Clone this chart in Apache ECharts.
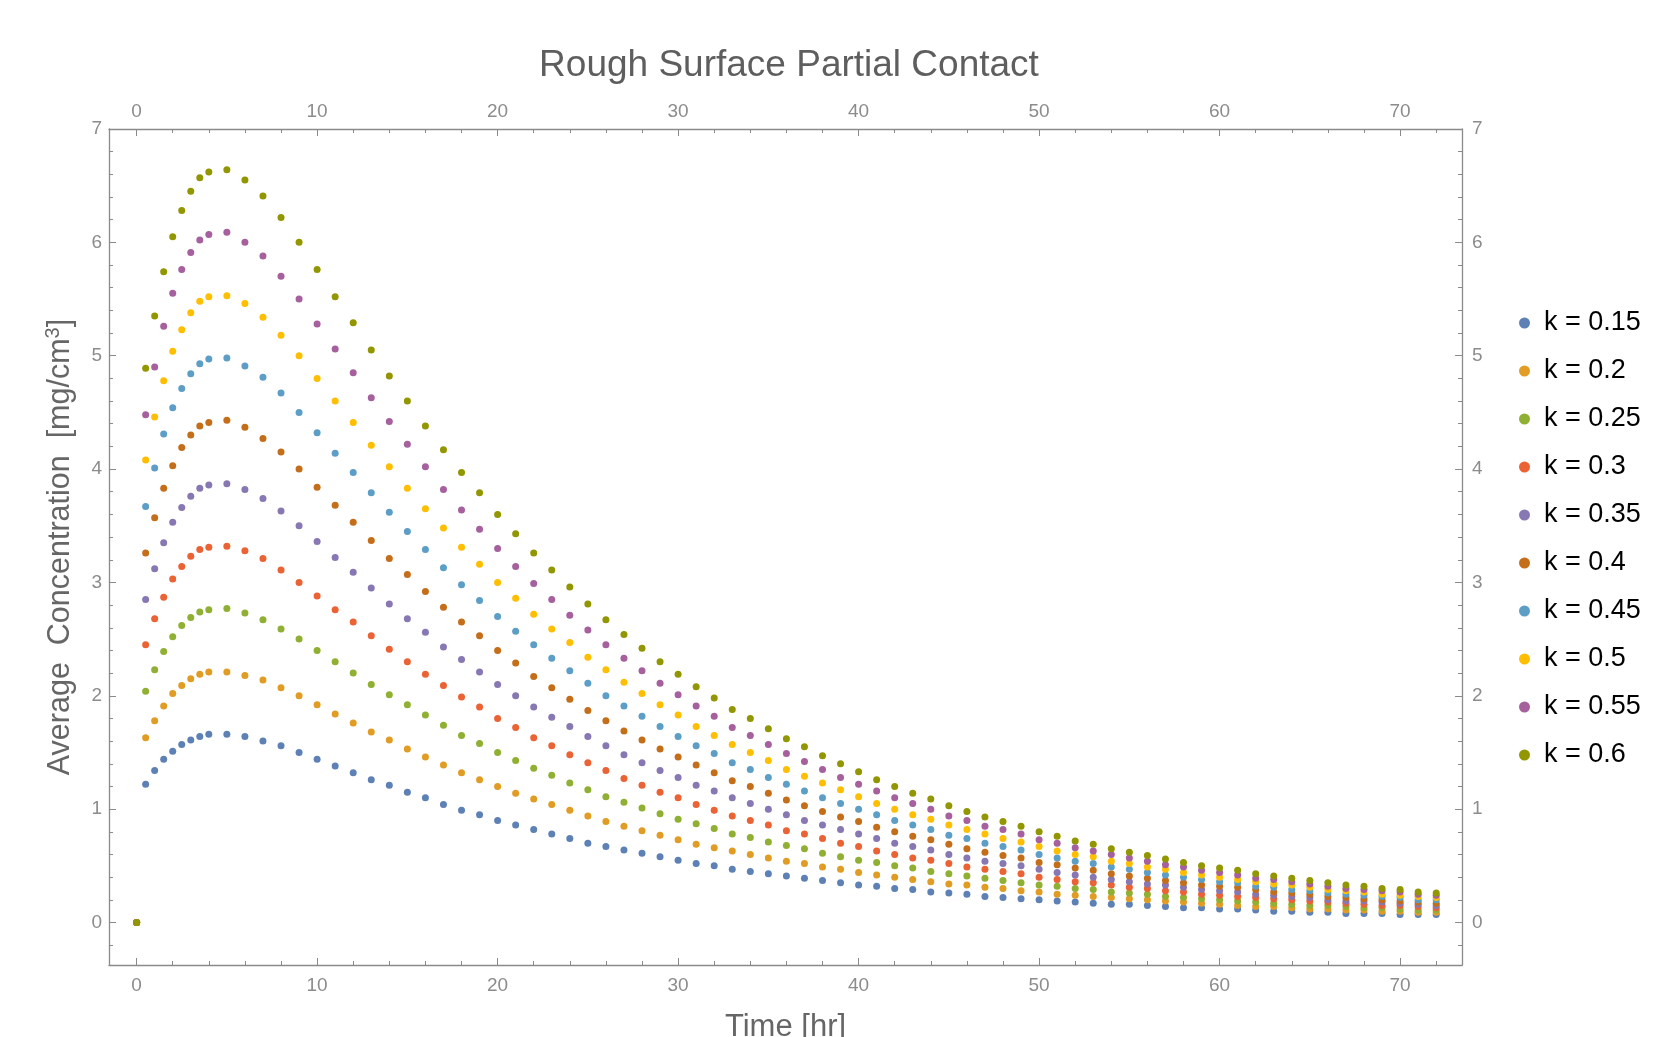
<!DOCTYPE html>
<html>
<head>
<meta charset="utf-8">
<title>Rough Surface Partial Contact</title>
<script src="https://cdn.jsdelivr.net/npm/echarts@6/dist/echarts.min.js"></script>
<style>
    html, body {margin: 0; padding: 0; background: #fff;}
    #main {width: 1679px; height: 1037px;}
</style>
</head>
<body>
<div id="main"></div>
<script>
// time points [hr]
var times = [0, 0.5, 1, 1.5, 2, 2.5, 3, 3.5, 4, 5,
    6, 7, 8, 9, 10, 11, 12, 13, 14, 15,
    16, 17, 18, 19, 20, 21, 22, 23, 24, 25,
    26, 27, 28, 29, 30, 31, 32, 33, 34, 35,
    36, 37, 38, 39, 40, 41, 42, 43, 44, 45,
    46, 47, 48, 49, 50, 51, 52, 53, 54, 55,
    56, 57, 58, 59, 60, 61, 62, 63, 64, 65,
    66, 67, 68, 69, 70, 71, 72];

var k015 = [0, 1.22, 1.34, 1.44, 1.51, 1.57, 1.61, 1.64, 1.66, 1.66,
    1.64, 1.60, 1.56, 1.50, 1.44, 1.38, 1.32, 1.26, 1.21, 1.15,
    1.10, 1.04, 0.99, 0.95, 0.90, 0.86, 0.82, 0.78, 0.74, 0.70,
    0.67, 0.64, 0.61, 0.58, 0.55, 0.52, 0.50, 0.47, 0.45, 0.43,
    0.41, 0.39, 0.37, 0.35, 0.33, 0.32, 0.30, 0.29, 0.27, 0.26,
    0.25, 0.23, 0.22, 0.21, 0.20, 0.19, 0.18, 0.17, 0.16, 0.16,
    0.15, 0.14, 0.13, 0.13, 0.12, 0.12, 0.11, 0.10, 0.10, 0.09,
    0.09, 0.08, 0.08, 0.08, 0.07, 0.07, 0.07];

var k020 = [0, 1.63, 1.78, 1.91, 2.02, 2.09, 2.15, 2.19, 2.21, 2.21,
    2.18, 2.14, 2.07, 2.00, 1.92, 1.84, 1.76, 1.68, 1.61, 1.53,
    1.46, 1.39, 1.32, 1.26, 1.20, 1.14, 1.09, 1.04, 0.99, 0.94,
    0.89, 0.85, 0.81, 0.77, 0.73, 0.69, 0.66, 0.63, 0.60, 0.57,
    0.54, 0.52, 0.49, 0.47, 0.44, 0.42, 0.40, 0.38, 0.36, 0.34,
    0.33, 0.31, 0.30, 0.28, 0.27, 0.25, 0.24, 0.23, 0.22, 0.21,
    0.20, 0.19, 0.18, 0.17, 0.16, 0.15, 0.14, 0.14, 0.13, 0.12,
    0.12, 0.11, 0.11, 0.10, 0.10, 0.09, 0.09];

var k025 = [0, 2.04, 2.23, 2.39, 2.52, 2.62, 2.69, 2.74, 2.76, 2.77,
    2.73, 2.67, 2.59, 2.50, 2.40, 2.30, 2.20, 2.10, 2.01, 1.92,
    1.83, 1.74, 1.65, 1.58, 1.50, 1.43, 1.36, 1.30, 1.23, 1.17,
    1.11, 1.06, 1.01, 0.96, 0.91, 0.87, 0.83, 0.78, 0.75, 0.71,
    0.68, 0.65, 0.61, 0.58, 0.55, 0.53, 0.50, 0.48, 0.45, 0.43,
    0.41, 0.39, 0.37, 0.35, 0.33, 0.32, 0.30, 0.29, 0.27, 0.26,
    0.25, 0.23, 0.22, 0.21, 0.20, 0.19, 0.18, 0.17, 0.16, 0.15,
    0.15, 0.14, 0.13, 0.13, 0.12, 0.11, 0.11];

var k030 = [0, 2.45, 2.68, 2.87, 3.03, 3.14, 3.23, 3.29, 3.31, 3.32,
    3.28, 3.21, 3.11, 3.00, 2.88, 2.76, 2.65, 2.53, 2.41, 2.30,
    2.19, 2.09, 1.99, 1.90, 1.80, 1.72, 1.63, 1.56, 1.48, 1.41,
    1.34, 1.27, 1.21, 1.15, 1.10, 1.04, 0.99, 0.94, 0.90, 0.86,
    0.81, 0.78, 0.74, 0.70, 0.67, 0.63, 0.60, 0.57, 0.55, 0.52,
    0.49, 0.47, 0.45, 0.43, 0.40, 0.38, 0.36, 0.35, 0.33, 0.31,
    0.30, 0.28, 0.27, 0.25, 0.24, 0.23, 0.22, 0.21, 0.20, 0.19,
    0.18, 0.17, 0.16, 0.15, 0.15, 0.14, 0.13];

var k035 = [0, 2.85, 3.12, 3.35, 3.53, 3.66, 3.76, 3.83, 3.86, 3.87,
    3.82, 3.74, 3.63, 3.50, 3.36, 3.22, 3.09, 2.95, 2.81, 2.68,
    2.56, 2.43, 2.32, 2.21, 2.10, 2.00, 1.90, 1.81, 1.73, 1.64,
    1.56, 1.48, 1.41, 1.34, 1.28, 1.21, 1.16, 1.10, 1.05, 1.00,
    0.95, 0.90, 0.86, 0.82, 0.78, 0.74, 0.70, 0.67, 0.64, 0.60,
    0.57, 0.54, 0.52, 0.50, 0.47, 0.44, 0.42, 0.40, 0.38, 0.36,
    0.34, 0.33, 0.31, 0.29, 0.28, 0.27, 0.25, 0.24, 0.23, 0.22,
    0.20, 0.19, 0.19, 0.18, 0.17, 0.16, 0.15];

var k040 = [0, 3.26, 3.57, 3.83, 4.03, 4.19, 4.30, 4.38, 4.41, 4.43,
    4.37, 4.27, 4.15, 4.00, 3.84, 3.68, 3.53, 3.37, 3.21, 3.07,
    2.92, 2.78, 2.65, 2.53, 2.40, 2.29, 2.17, 2.07, 1.97, 1.87,
    1.78, 1.69, 1.61, 1.53, 1.46, 1.39, 1.32, 1.25, 1.20, 1.14,
    1.08, 1.03, 0.98, 0.93, 0.89, 0.84, 0.80, 0.76, 0.73, 0.69,
    0.65, 0.62, 0.59, 0.57, 0.53, 0.51, 0.48, 0.46, 0.43, 0.41,
    0.39, 0.37, 0.35, 0.33, 0.32, 0.31, 0.29, 0.27, 0.26, 0.25,
    0.23, 0.22, 0.21, 0.20, 0.19, 0.18, 0.17];

var k045 = [0, 3.67, 4.01, 4.31, 4.54, 4.71, 4.84, 4.93, 4.97, 4.98,
    4.91, 4.81, 4.67, 4.50, 4.32, 4.14, 3.97, 3.79, 3.62, 3.45,
    3.29, 3.13, 2.98, 2.84, 2.70, 2.57, 2.45, 2.33, 2.22, 2.11,
    2.00, 1.91, 1.82, 1.73, 1.64, 1.56, 1.49, 1.41, 1.35, 1.28,
    1.22, 1.16, 1.10, 1.05, 1.00, 0.95, 0.90, 0.86, 0.82, 0.77,
    0.74, 0.70, 0.67, 0.64, 0.60, 0.57, 0.54, 0.52, 0.49, 0.47,
    0.44, 0.42, 0.40, 0.38, 0.36, 0.35, 0.32, 0.31, 0.29, 0.28,
    0.26, 0.25, 0.24, 0.23, 0.22, 0.20, 0.20];

var k050 = [0, 4.08, 4.46, 4.78, 5.04, 5.23, 5.38, 5.48, 5.52, 5.53,
    5.46, 5.34, 5.18, 5.00, 4.80, 4.60, 4.41, 4.21, 4.02, 3.83,
    3.65, 3.48, 3.31, 3.16, 3.00, 2.86, 2.72, 2.59, 2.47, 2.34,
    2.23, 2.12, 2.02, 1.92, 1.83, 1.73, 1.65, 1.57, 1.50, 1.43,
    1.35, 1.29, 1.23, 1.17, 1.11, 1.05, 1.00, 0.95, 0.91, 0.86,
    0.82, 0.78, 0.74, 0.71, 0.67, 0.63, 0.60, 0.58, 0.54, 0.52,
    0.49, 0.47, 0.44, 0.42, 0.40, 0.38, 0.36, 0.34, 0.33, 0.31,
    0.29, 0.28, 0.27, 0.25, 0.24, 0.23, 0.22];

var k055 = [0, 4.48, 4.90, 5.26, 5.55, 5.76, 5.91, 6.02, 6.07, 6.09,
    6.00, 5.88, 5.70, 5.50, 5.28, 5.06, 4.85, 4.63, 4.42, 4.22,
    4.02, 3.82, 3.64, 3.47, 3.30, 3.14, 2.99, 2.85, 2.71, 2.58,
    2.45, 2.33, 2.22, 2.11, 2.01, 1.91, 1.82, 1.72, 1.65, 1.57,
    1.49, 1.42, 1.35, 1.28, 1.22, 1.16, 1.10, 1.05, 1.00, 0.94,
    0.90, 0.85, 0.82, 0.78, 0.73, 0.70, 0.66, 0.63, 0.60, 0.57,
    0.54, 0.51, 0.49, 0.46, 0.44, 0.42, 0.39, 0.38, 0.36, 0.34,
    0.32, 0.30, 0.29, 0.28, 0.27, 0.25, 0.24];

var k060 = [0, 4.89, 5.35, 5.74, 6.05, 6.28, 6.45, 6.57, 6.62, 6.64,
    6.55, 6.41, 6.22, 6.00, 5.76, 5.52, 5.29, 5.05, 4.82, 4.60,
    4.38, 4.17, 3.97, 3.79, 3.60, 3.43, 3.26, 3.11, 2.96, 2.81,
    2.67, 2.54, 2.42, 2.30, 2.19, 2.08, 1.98, 1.88, 1.80, 1.71,
    1.62, 1.55, 1.47, 1.40, 1.33, 1.26, 1.20, 1.14, 1.09, 1.03,
    0.98, 0.93, 0.89, 0.85, 0.80, 0.76, 0.72, 0.69, 0.65, 0.62,
    0.59, 0.56, 0.53, 0.50, 0.48, 0.46, 0.43, 0.41, 0.39, 0.37,
    0.35, 0.33, 0.32, 0.30, 0.29, 0.27, 0.26];

var seriesNames = ['k = 0.15', 'k = 0.2', 'k = 0.25', 'k = 0.3', 'k = 0.35',
    'k = 0.4', 'k = 0.45', 'k = 0.5', 'k = 0.55', 'k = 0.6'];
var seriesValues = [k015, k020, k025, k030, k035, k040, k045, k050, k055, k060];

// tick labels
var xTicks = [0, 10, 20, 30, 40, 50, 60, 70];
var yTicks = [0, 1, 2, 3, 4, 5, 6, 7];

var colors = ['#5e81b5', '#e19c24', '#8fb032', '#eb6235', '#8778b3',
    '#c56e1a', '#5d9ec7', '#ffbf00', '#a5609d', '#929600'];

var font = "'Liberation Sans', Arial, sans-serif";
var frameColor = '#8a8a8a';
var tickLabelColor = '#8c8c8c';

var xMin = -1.53, xMax = 73.43;
var yMin = -0.375, yMax = 7;

// minor ticks (every 2 hr / every 0.2)
var xMinor = [];
for (var a = 2; a <= 72; a += 2) {
    if (a % 10 !== 0) xMinor.push(a);
}
var yMinor = [];
for (var b = -1; b <= 34; b++) {
    if (b % 5 !== 0) yMinor.push(Math.round(b * 20) / 100);
}

function xAxisOf(position, ticks, len, withLabel, withLine, margin) {
    return {
        type: 'value',
        position: position,
        min: xMin,
        max: xMax,
        splitLine: {show: false},
        axisLine: {show: withLine, onZero: false, lineStyle: {color: frameColor, width: 1.3}},
        axisTick: {show: true, inside: true, length: len, customValues: ticks,
            lineStyle: {color: frameColor, width: 1}},
        axisLabel: {show: withLabel, customValues: ticks, margin: margin,
            color: tickLabelColor, fontSize: 19, fontFamily: font}
    };
}

function yAxisOf(position, ticks, len, withLabel, withLine, margin) {
    return {
        type: 'value',
        position: position,
        min: yMin,
        max: yMax,
        splitLine: {show: false},
        axisLine: {show: withLine, onZero: false, lineStyle: {color: frameColor, width: 1.3}},
        axisTick: {show: true, inside: true, length: len, customValues: ticks,
            lineStyle: {color: frameColor, width: 1}},
        axisLabel: {show: withLabel, customValues: ticks, margin: margin,
            color: tickLabelColor, fontSize: 19, fontFamily: font}
    };
}

var xAxes = [
    xAxisOf('bottom', xTicks, 7, true, true, 11),
    xAxisOf('bottom', xMinor, 4, false, false, 11),
    xAxisOf('top', xTicks, 7, true, true, 8),
    xAxisOf('top', xMinor, 4, false, false, 8)
];
xAxes[0].name = 'Time [hr]';
xAxes[0].nameLocation = 'middle';
xAxes[0].nameGap = 47;
xAxes[0].nameTextStyle = {fontSize: 31, color: '#666', fontFamily: font};

var yAxes = [
    yAxisOf('left', yTicks, 7, true, true, 7),
    yAxisOf('left', yMinor, 4, false, false, 7),
    yAxisOf('right', yTicks, 7, true, true, 10),
    yAxisOf('right', yMinor, 4, false, false, 10)
];
yAxes[0].name = 'Average  Concentration  [mg/cm{sup|3}]';
yAxes[0].nameLocation = 'middle';
yAxes[0].nameRotate = 90;
yAxes[0].nameGap = 30;
yAxes[0].nameTextStyle = {
    fontSize: 30.5, color: '#666', fontFamily: font, lineHeight: 36,
    rich: {sup: {fontSize: 20, color: '#666', fontFamily: font, verticalAlign: 'top', lineHeight: 36}}
};

var series = [];
for (var i = 0; i < seriesValues.length; i++) {
    var pts = [];
    for (var j = 0; j < times.length; j++) {
        pts.push([times[j], seriesValues[i][j]]);
    }
    series.push({
        name: seriesNames[i],
        type: 'scatter',
        xAxisIndex: 0,
        yAxisIndex: 0,
        symbol: 'circle',
        symbolSize: 7,
        itemStyle: {color: colors[i], opacity: 1},
        data: pts
    });
}

var myChart = echarts.init(document.getElementById('main'));
var option = {
    animation: false,
    backgroundColor: '#fff',
    color: colors,
    title: {
        text: 'Rough Surface Partial Contact',
        left: 784,
        top: 42,
        textAlign: 'center',
        textStyle: {fontSize: 37, fontWeight: 'normal', color: '#5e5e5e', fontFamily: font}
    },
    legend: {
        orient: 'vertical',
        left: 1514,
        top: 303,
        icon: 'circle',
        itemWidth: 11,
        itemHeight: 11,
        itemGap: 18,
        data: seriesNames,
        textStyle: {fontSize: 27, color: '#000', fontFamily: font, lineHeight: 30, padding: [0, 0, 0, 9]}
    },
    grid: {left: 109, top: 129, width: 1353, height: 836, containLabel: false, outerBoundsMode: 'none'},
    xAxis: xAxes,
    yAxis: yAxes,
    series: series
};
myChart.setOption(option);
</script>
</body>
</html>
